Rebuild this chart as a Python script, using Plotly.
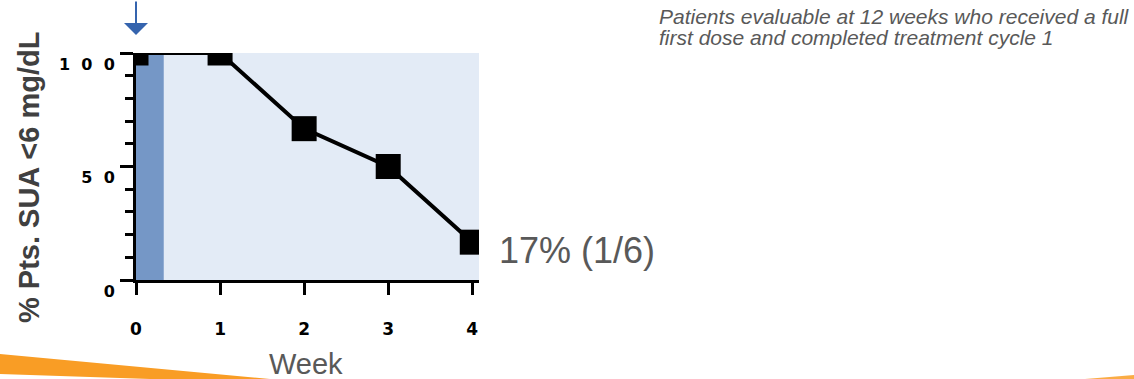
import plotly.graph_objects as go

# Study data: patients with serum uric acid below 6 mg/dL, by week
weeks = [0, 1, 2, 3, 4]
responders = [6, 6, 4, 3, 1]
n_patients = 6
pct = [r / n_patients * 100 for r in responders]

week_ticks = [0, 1, 2, 3, 4]
y_tick_vals = [0, 50, 100]
SP = "\u2002\u2009"
y_tick_text = ["0", "5" + SP + "0", "1" + SP + "0" + SP + "0"]

dose_end = 0.33  # end of the shaded dosing window (weeks)

W, H = 1134, 379
L, R, T, B = 136, 655, 53, 99
PW, PH = W - L - R, H - T - B


def px(x):
    """Pixel column -> paper x."""
    return (x - L) / PW


def py(y):
    """Pixel row -> paper y."""
    return (H - B - y) / PH


FONT = "Arial, Liberation Sans, sans-serif"
GRAY = "#595959"

fig = go.Figure()

fig.add_trace(go.Scatter(
    x=weeks, y=pct, mode="lines+markers",
    line=dict(color="black", width=4),
    marker=dict(symbol="square", size=25, color="black"),
    cliponaxis=True, showlegend=False, hoverinfo="skip",
))

# dosing window band
fig.add_shape(type="rect", xref="x", yref="y", x0=0, x1=dose_end, y0=-1.5, y1=100,
              fillcolor="#7597C6", line_width=0, layer="below")

# orange swooshes along the bottom edge
left_swoosh = [(0, 354), (270, 379), (150, 379), (0, 374)]
right_swoosh = [(1085, 379), (1134, 375), (1134, 379)]
for pts, op in ((left_swoosh, 1.0), (right_swoosh, 0.85)):
    path = "M " + " L ".join(f"{px(a):.4f},{py(b):.4f}" for a, b in pts) + " Z"
    fig.add_shape(type="path", xref="paper", yref="paper", path=path,
                  fillcolor="#F99D25", line_width=0, opacity=op, layer="above")

ann = [
    dict(text="% Pts. SUA <6 mg/dL", x=px(29), y=py(178), textangle=-90,
         font=dict(family=FONT, size=29, color="#404040", weight="bold")),
    dict(text="Week", x=px(306), y=py(364),
         font=dict(family=FONT, size=29, color=GRAY)),
    dict(text=f"{round(pct[-1])}% ({responders[-1]}/{n_patients})",
         x=px(497), y=py(250), xanchor="left",
         font=dict(family=FONT, size=36, color=GRAY)),
    dict(text="<i>Patients evaluable at 12 weeks who received a full</i>",
         x=px(657), y=py(16), xanchor="left",
         font=dict(family=FONT, size=21, color=GRAY)),
    dict(text="<i>first dose and completed treatment cycle 1</i>",
         x=px(657), y=py(38), xanchor="left",
         font=dict(family=FONT, size=21, color=GRAY)),
]
for a in ann:
    a.setdefault("xanchor", "center")
    fig.add_annotation(xref="paper", yref="paper", yanchor="middle",
                       showarrow=False, **a)

# dosing start arrow
fig.add_annotation(x=0, xref="x", y=py(35), yref="paper", text="",
                   showarrow=True, ax=0, ay=-40, arrowhead=1, arrowsize=2.0,
                   arrowwidth=2, arrowcolor="#3564AE")

fig.update_layout(
    width=W, height=H,
    margin=dict(l=L, r=R, t=T, b=B, pad=0),
    paper_bgcolor="white", plot_bgcolor="#E3EBF6",
    xaxis=dict(range=[0, 4.08], tickvals=week_ticks, showgrid=False, zeroline=False,
               showline=True, linecolor="black", linewidth=3,
               ticks="outside", ticklen=12, tickwidth=3, tickcolor="black",
               ticklabelstandoff=20,
               tickfont=dict(family="DejaVu Sans", size=17, color="black", weight="bold")),
    yaxis=dict(range=[0, 100], tickvals=y_tick_vals, ticktext=y_tick_text,
               showgrid=False, zeroline=False,
               showline=True, linecolor="black", linewidth=3,
               ticks="outside", ticklen=13, tickwidth=3, tickcolor="black",
               ticklabelstandoff=2, ticklabelshift=11,
               minor=dict(dtick=10, ticks="outside", ticklen=8, tickwidth=3,
                          tickcolor="black", showgrid=False),
               tickfont=dict(family="DejaVu Sans", size=16, color="black", weight="bold")),
)

fig.write_html("out.html")
